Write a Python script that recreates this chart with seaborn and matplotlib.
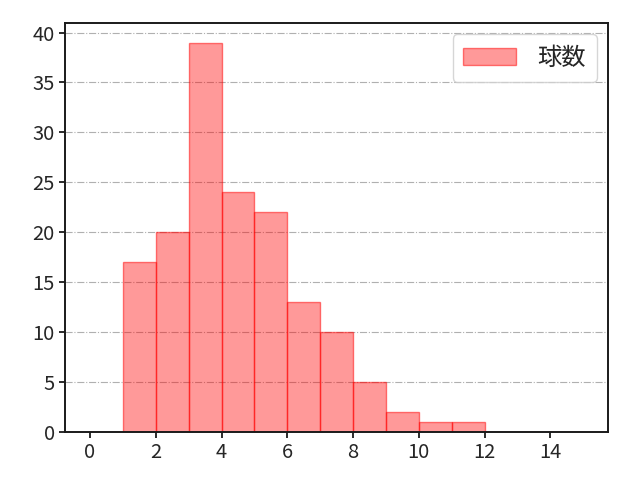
import numpy as np
import pandas as pd
import matplotlib
matplotlib.use("Agg")
import matplotlib.pyplot as plt
import seaborn as sns

bin_left = [0, 1, 2, 3, 4, 5, 6, 7, 8, 9, 10, 11, 12, 13, 14]
counts = [0, 17, 20, 39, 24, 22, 13, 10, 5, 2, 1, 1, 0, 0, 0]
label = "球数"

sns.set_style("ticks")
plt.rcParams['font.family'] = ['Noto Sans CJK JP', 'DejaVu Sans']

df = pd.DataFrame({"x": [b + 0.5 for b in bin_left], "w": counts})

fig, ax = plt.subplots(figsize=(6.4, 4.8), dpi=100)
sns.histplot(data=df, x="x", weights="w", binwidth=1, binrange=(0, 15), ax=ax,
             facecolor=(1, 0, 0, 0.4), edgecolor=(1, 0, 0, 0.5), linewidth=1,
             label=label)
ax.set_xlim(-0.75, 15.75)
ax.set_xlabel("")
ax.set_ylabel("")
ax.set_xticks(range(0, 15, 2))
ax.set_yticks(range(0, 41, 5))
ax.grid(axis="y", linestyle="-.", color="#b0b0b0", linewidth=0.8)
ax.set_axisbelow(True)
for s in ax.spines.values():
    s.set_visible(True)
    s.set_color("#1a1a1a")
    s.set_linewidth(1.4)
ax.tick_params(labelsize=14.5, length=4.5, width=1.3, color="#1a1a1a", pad=3)
ax.legend(loc="upper right", fontsize=17.5, handlelength=2.15, handletextpad=0.9,
          borderpad=0.45, borderaxespad=0.45)
fig.subplots_adjust(left=0.102, right=0.95, top=0.952, bottom=0.1)
fig.savefig("out.png", dpi=100)
